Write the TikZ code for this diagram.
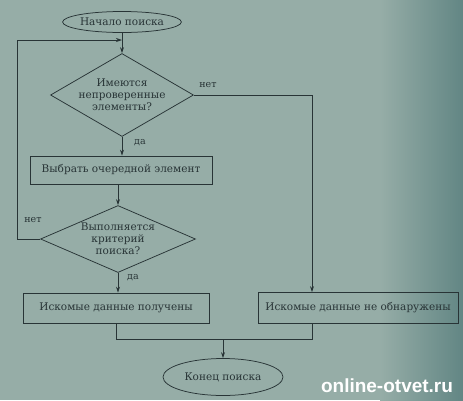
\documentclass[tikz,border=0pt]{standalone}
\usepackage{fontspec}
\setmainfont{DejaVu Serif}
\newfontfamily\wmfont{Liberation Sans}
\usetikzlibrary{shapes.geometric,arrows.meta,calc}
\definecolor{bgA}{RGB}{150,173,167}
\definecolor{bgB}{RGB}{98,134,132}
\definecolor{ink}{RGB}{40,52,54}
\begin{document}
\begin{tikzpicture}[x=1pt,y=-1pt,
  every node/.style={text=ink},
  line/.style={draw=ink, line width=0.75pt},
  arr/.style={line, -{Stealth[length=6pt,width=4pt]}},
  term/.style={ellipse, draw=ink, line width=0.75pt, inner sep=0pt, font=\fontsize{10.5}{12}\selectfont},
  proc/.style={rectangle, draw=ink, line width=0.75pt, inner sep=0pt, font=\fontsize{10.5}{12}\selectfont},
  decide/.style={diamond, draw=ink, line width=0.75pt, inner sep=0pt, align=center, font=\fontsize{10.5}{12}\selectfont},
  lbl/.style={font=\fontsize{9.5}{10}\selectfont}]
\fill[bgA] (0,0) rectangle (463,400);
\shade[left color=bgA, right color=bgB] (380,0) rectangle (463,400);
\useasboundingbox (0,0) rectangle (463,400);

\node[term, minimum width=110pt, minimum height=21pt] (start) at (122,22) {Начало поиска};
\node[decide, aspect=1.72, minimum width=143pt, minimum height=83pt] (d1) at (122,95) {Имеются\\непроверенные\\элементы?};
\node[proc, minimum width=182pt, minimum height=28pt] (p1) at (121,170) {Выбрать очередной элемент};
\node[decide, aspect=2.3, minimum width=155pt, minimum height=67pt] (d2) at (118,239) {Выполняется\\критерий\\поиска?};
\node[proc, minimum width=186pt, minimum height=30pt] (p2) at (116,308) {Искомые данные получены};
\node[proc, minimum width=200pt, minimum height=31pt] (p3) at (358,308) {Искомые данные не обнаружены};
\node[term, minimum width=120pt, minimum height=37pt] (end) at (223,377) {Конец поиска};

\node[lbl] (net1) at (208,85) {нет};
\node[lbl] (da1) at (140,143) {да};
\node[lbl] (net2) at (33,220) {нет};
\node[lbl] (da2) at (133,278) {да};

\coordinate (j) at (122,40);
\coordinate (c1) at (312,0);
\coordinate (m) at (223,339);

\draw[arr] (start) -- (d1);
\draw[arr] (d1.south) -- (d1.south |- p1.north);
\draw[arr] (d2.north |- p1.south) -- (d2.north);
\draw[arr] (d2.south) -- (d2.south |- p2.north);
\draw[arr] (d2.west) -- ++(-23,0) |- (j);
\draw[arr] (d1.east) -| (p3.north -| c1);
\draw[line] (p2.south) |- (m);
\draw[line] (p3.south -| c1) |- (m);
\draw[arr] (m) -- (end.north);

\node[font=\wmfont\bfseries\fontsize{19}{19}\selectfont, text=white] (wm) at (387,386) {online-otvet.ru};
\end{tikzpicture}
\end{document}
